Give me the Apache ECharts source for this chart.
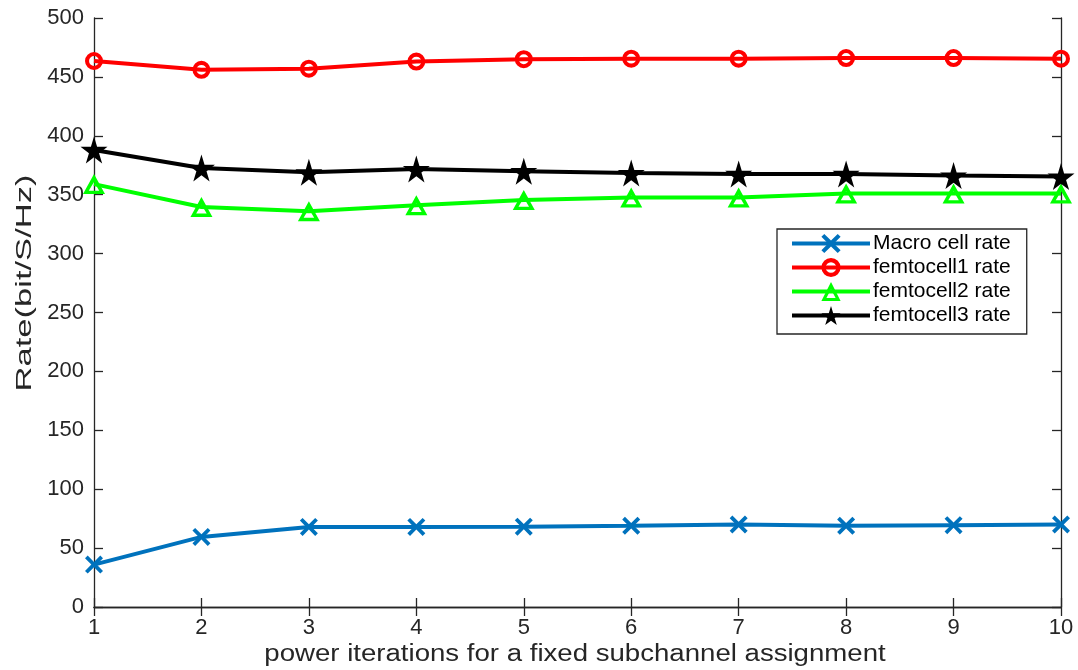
<!DOCTYPE html>
<html>
<head>
<meta charset="utf-8">
<script src="https://cdn.jsdelivr.net/npm/echarts@6/dist/echarts.min.js"></script>
<style>
  html, body { margin: 0; padding: 0; background: #fff; }
  #chart { width: 1078px; height: 670px; }
</style>
</head>
<body>
<div id="chart"></div>
<script>
// Power iteration index
const iterations = [1, 2, 3, 4, 5, 6, 7, 8, 9, 10];

// Sum rates (bit/S/Hz) per iteration
const macroRate = [36, 59.5, 68, 68, 68.2, 69, 70, 69, 69.5, 70];
const femto1Rate = [463.5, 456, 457, 463, 465, 465.5, 465.5, 466, 466, 465.5];
const femto2Rate = [359, 339.6, 336, 341, 345.5, 347.6, 347.6, 351, 351, 351];
const femto3Rate = [388, 372.7, 369, 371.8, 370, 368.4, 367.6, 367.6, 366.3, 365.4];

const seriesNames = ['Macro cell rate', 'femtocell1 rate', 'femtocell2 rate', 'femtocell3 rate'];
const yTicks = [0, 50, 100, 150, 200, 250, 300, 350, 400, 450, 500];

const xTitle = 'power iterations for a fixed subchannel assignment';
const yTitle = 'Rate(bit/S/Hz)';

// Marker outlines; ring and hollow triangle leave the line visible through the middle
const CROSS = 'path://M3,0 L10,7 L17,0 L20,3 L13,10 L20,17 L17,20 L10,13 L3,20 L0,17 L7,10 L0,3 Z';
const RING = 'path://M0,10 A10,10 0 1,1 20,10 A10,10 0 1,1 0,10 Z M4.5,10 A5.5,5.5 0 1,0 15.5,10 A5.5,5.5 0 1,0 4.5,10 Z';
const HOLLOW_TRI = 'path://M10,0 L20,18 L0,18 Z M10,7 L5.2,15 L14.8,15 Z';
const STAR = 'path://M50,0 L61,35 L98,35 L68,57 L79,91 L50,70 L21,91 L32,57 L2,35 L39,35 Z';

const pairs = arr => iterations.map((x, i) => [x, arr[i]]);

const FONT = '"Liberation Sans", Arial, sans-serif';
const axisColor = '#262626';

function lineSeries(name, data, color, symbol, size) {
  return {
    name: name,
    type: 'line',
    data: pairs(data),
    symbol: symbol,
    symbolSize: size,
    showAllSymbol: true,
    clip: false,
    lineStyle: { color: color, width: 4 },
    itemStyle: { color: color, borderWidth: 0 },
    emphasis: { disabled: true },
    z: 3
  };
}

const chart = echarts.init(document.getElementById('chart'), null, { renderer: 'canvas' });

const baseAxis = {
  axisLine: { show: true, lineStyle: { color: axisColor, width: 1.3 } },
  axisTick: { show: true, inside: true, length: 9, lineStyle: { color: axisColor, width: 1.3 } },
  splitLine: { show: false }
};

chart.setOption({
  animation: false,
  backgroundColor: '#fff',
  textStyle: { fontFamily: FONT },
  grid: { left: 94, right: 17, top: 18, bottom: 63, containLabel: false },
  legend: {
    data: seriesNames,
    orient: 'vertical',
    left: 777,
    top: 229,
    itemWidth: 78,
    itemHeight: 24,
    itemGap: 3,
    padding: [4, 16, 8, 13],
    borderColor: '#262626',
    borderWidth: 1.3,
    backgroundColor: '#fff',
    lineStyle: { width: 4 },
    textStyle: { fontSize: 21, lineHeight: 20, color: '#000', fontFamily: FONT, padding: [0, 0, 0, -2] }
  },
  graphic: [
    {
      type: 'text',
      x: 575, y: 655,
      scaleX: 1.2,
      style: {
        text: xTitle, fontSize: 23, fontFamily: FONT, fill: '#262626',
        align: 'center', verticalAlign: 'middle'
      },
      z: 10
    },
    {
      type: 'text',
      x: 25, y: 283,
      rotation: Math.PI / 2,
      scaleX: 1.57,
      style: {
        text: yTitle, fontSize: 22, fontFamily: FONT, fill: '#262626',
        align: 'center', verticalAlign: 'middle'
      },
      z: 10
    }
  ],
  xAxis: [
    Object.assign({}, baseAxis, {
      type: 'value',
      min: 1, max: 10, interval: 1,
      axisLabel: { fontSize: 22, color: '#262626', margin: 10, fontFamily: FONT }
    }),
    Object.assign({}, baseAxis, {
      type: 'value', position: 'top',
      min: 1, max: 10, interval: 1,
      axisLabel: { show: false }
    })
  ],
  yAxis: [
    Object.assign({}, baseAxis, {
      type: 'value',
      min: yTicks[0], max: yTicks[yTicks.length - 1], interval: 50,
      axisLabel: { fontSize: 22, color: '#262626', margin: 10, fontFamily: FONT }
    }),
    Object.assign({}, baseAxis, {
      type: 'value', position: 'right',
      min: yTicks[0], max: yTicks[yTicks.length - 1], interval: 50,
      axisLabel: { show: false }
    })
  ],
  series: [
    lineSeries(seriesNames[0], macroRate, '#0072BD', CROSS, 18),
    lineSeries(seriesNames[1], femto1Rate, '#FF0000', RING, 18),
    lineSeries(seriesNames[2], femto2Rate, '#00FF00', HOLLOW_TRI, [22, 20]),
    lineSeries(seriesNames[3], femto3Rate, '#000000', STAR, 27)
  ]
});
</script>
</body>
</html>
